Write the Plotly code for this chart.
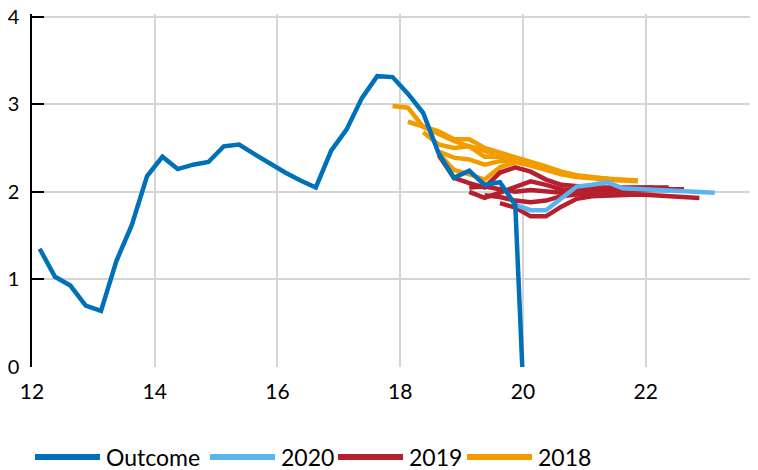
import plotly.graph_objects as go

# quarterly series, x in years since 2000 (mid-quarter points)
outcome_start = 12.125
outcome_vals = [1.35, 1.03, 0.93, 0.70, 0.64, 1.21, 1.62, 2.18, 2.40, 2.26, 2.31, 2.34,
                2.52, 2.54, 2.43, 2.32, 2.22, 2.13, 2.05, 2.47, 2.71, 3.07, 3.32, 3.31,
                3.12, 2.90, 2.44, 2.16, 2.24, 2.08, 2.11, 1.85, -2.2]

# forecast vintages: start quarter + path
f2018_starts = [17.875, 18.125, 18.375, 18.625, 18.625]
f2018_vals = [
    [2.98, 2.96, 2.74, 2.66, 2.58, 2.52, 2.47, 2.42, 2.37, 2.32, 2.26, 2.21, 2.18, 2.16],
    [2.80, 2.74, 2.69, 2.60, 2.60, 2.50, 2.45, 2.40, 2.35, 2.29, 2.23, 2.19, 2.17, 2.15],
    [2.68, 2.54, 2.50, 2.52, 2.40, 2.40, 2.37, 2.32, 2.26, 2.21, 2.18, 2.16, 2.14, 2.13],
    [2.46, 2.39, 2.37, 2.31, 2.35, 2.36, 2.32, 2.27, 2.22, 2.18, 2.16, 2.15, 2.14, 2.13],
    [2.44, 2.25, 2.20, 2.14, 2.28, 2.34, 2.30, 2.25, 2.20, 2.17, 2.15, 2.14, 2.13, 2.12],
]
f2019_starts = [18.625, 19.125, 19.125, 19.375, 19.625]
f2019_vals = [
    [2.42, 2.16, 2.10, 2.05, 2.22, 2.28, 2.23, 2.14, 2.08, 2.06, 2.05, 2.05, 2.05, 2.05, 2.05],
    [2.00, 1.93, 1.99, 2.06, 2.12, 2.08, 2.03, 2.02, 2.02, 2.03, 2.04, 2.05, 2.05, 2.05],
    [2.05, 2.06, 2.03, 2.00, 2.02, 2.00, 1.99, 2.00, 2.01, 2.02, 2.02, 2.02, 2.02, 2.02],
    [1.96, 1.94, 1.90, 1.88, 1.90, 1.95, 1.97, 1.99, 2.00, 2.01, 2.02, 2.03, 2.03, 2.03],
    [1.87, 1.82, 1.72, 1.72, 1.83, 1.92, 1.95, 1.96, 1.97, 1.97, 1.96, 1.95, 1.94, 1.93],
]
f2020_starts = [19.875]
f2020_vals = [
    [1.85, 1.79, 1.79, 1.92, 2.06, 2.08, 2.11, 2.04, 2.03, 2.02, 2.01, 2.00, 1.99, 1.99],
]

x_ticks = [12, 14, 16, 18, 20, 22]
y_ticks = [0, 1, 2, 3, 4]

legend_names = ["Outcome", "2020", "2019", "2018"]
colors = {"Outcome": "#0070b8", "2020": "#5cb4ee", "2019": "#b51f2e", "2018": "#f39c00"}


def quarters(start, n):
    return [start + 0.25 * i for i in range(n)]


fig = go.Figure()

for name, starts, vals in [("2018", f2018_starts, f2018_vals),
                           ("2019", f2019_starts, f2019_vals),
                           ("2020", f2020_starts, f2020_vals)]:
    for s, v in zip(starts, vals):
        fig.add_trace(go.Scatter(x=quarters(s, len(v)), y=v, mode="lines", name=name,
                                 line=dict(color=colors[name], width=4.5), showlegend=False))

fig.add_trace(go.Scatter(x=quarters(outcome_start, len(outcome_vals)), y=outcome_vals,
                         mode="lines", name="Outcome", showlegend=False,
                         line=dict(color=colors["Outcome"], width=4.5)))
# invisible trace so the right-hand tick axis gets drawn
fig.add_trace(go.Scatter(x=[12], y=[0], yaxis="y2", mode="none", showlegend=False,
                         hoverinfo="skip"))

# the page body has an 8px margin, so the figure is placed 8px in from top/left
off = 8
px_per_y = 87.5
y_pad = 0.03  # a little headroom so plotly keeps the gridline/tick at 4
fig_w, fig_h = 758 - off, 470 - off
ml, mr, mt, mb = 32 - off, 3, 17 - off - y_pad * px_per_y, 103
pw, ph = fig_w - ml - mr, fig_h - mt - mb

# hand-made legend with long line keys like the original (page pixel positions)
legend_line_x = [35, 210, 338, 467]
key_len = 65
leg_y = (fig_h + off - mb - 457) / ph
for name, lx in zip(legend_names, legend_line_x):
    fig.add_shape(type="line", xref="paper", yref="paper",
                  x0=(lx - off - ml) / pw, x1=(lx - off + key_len - ml) / pw, y0=leg_y, y1=leg_y,
                  line=dict(color=colors[name], width=6))
    fig.add_annotation(xref="paper", yref="paper", x=(lx - off + key_len + 4 - ml) / pw, y=leg_y,
                       text=name, showarrow=False, xanchor="left", yanchor="middle",
                       font=dict(family="Lato", size=23, color="#000000"))

x_max = 12 + pw / 61.37
y_range = [0, 4 + y_pad]

fig.update_layout(
    width=fig_w, height=fig_h,
    margin=dict(l=ml, r=mr, t=mt, b=mb, autoexpand=False),
    paper_bgcolor="white", plot_bgcolor="white",
    showlegend=False,
    font=dict(family="Lato", size=20, color="#000000"),
    xaxis=dict(range=[12, x_max], tickvals=x_ticks, showgrid=True, gridcolor="#d4d4d4",
               gridwidth=1.5, zeroline=False, showline=False, ticks="", automargin=False,
               ticklabelstandoff=10, ticklabeloverflow="allow", tickfont=dict(size=21)),
    yaxis=dict(range=y_range, tickvals=y_ticks, showgrid=True, gridcolor="#d4d4d4",
               gridwidth=1.5, zeroline=False, showline=True, linecolor="#000000",
               linewidth=1.5, ticks="inside", ticklen=12, tickcolor="#000000",
               tickwidth=1.5, ticklabelstandoff=7, ticklabeloverflow="allow",
               automargin=False, tickfont=dict(size=20)),
    yaxis2=dict(range=y_range, tickvals=y_ticks, overlaying="y", side="right",
                showgrid=False, zeroline=False, showline=False, showticklabels=False,
                automargin=False, ticks="outside", ticklen=4, tickcolor="#000000",
                tickwidth=1.5),
)

fig.write_html("out.html")
